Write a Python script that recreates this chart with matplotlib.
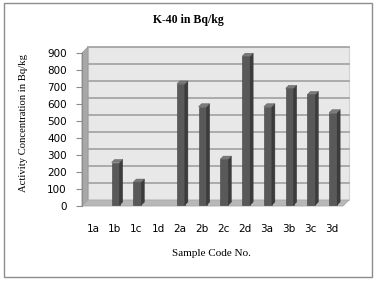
import numpy as np
import matplotlib
matplotlib.use("Agg")
import matplotlib.pyplot as plt
from matplotlib.patches import Polygon, Rectangle
from matplotlib.transforms import IdentityTransform, Affine2D

# data
samples = ['1a', '1b', '1c', '1d', '2a', '2b', '2c', '2d', '3a', '3b', '3c', '3d']
k40 = [0, 250, 135, 0, 712, 578, 270, 875, 578, 686, 650, 543]
yticks = list(range(0, 1000, 100))

W, H = 378, 283
fig = plt.figure(figsize=(W / 100, H / 100), dpi=100)
fig.patch.set_facecolor('white')

# outer frame
fig.add_artist(Rectangle((4 / W, 6 / H), 368 / W, 274 / H, transform=fig.transFigure,
                         fill=False, edgecolor='#8c8c8c', lw=1.0))

# front plane of the 3d box, in pixels
x0, x1, yb, yt = 82, 343, 206, 53
ax = fig.add_axes([x0 / W, (H - yb) / H, (x1 - x0) / W, (yb - yt) / H])
ax.set_xlim(-0.5, len(samples) - 0.5)
ax.set_ylim(0, 900)
ax.patch.set_alpha(0)

dx, dy = 6, 6  # depth offset in pixels (back = right / up)
ident = IdentityTransform()


def px(x, y):
    return ax.transData.transform((x, y))


def poly(pts, **kw):
    ax.add_patch(Polygon(pts, closed=True, transform=ident, clip_on=False, **kw))


# back wall
bl = px(-0.5, 0); tr = px(len(samples) - 0.5, 900)
poly([(bl[0] + dx, bl[1] + dy), (tr[0] + dx, bl[1] + dy),
      (tr[0] + dx, tr[1] + dy), (bl[0] + dx, tr[1] + dy)],
     facecolor='#e8e8e8', edgecolor='#d0d0d0', lw=0.8, zorder=0)
for v in yticks[1:]:
    p = px(-0.5, v)
    ax.plot([p[0] + dx, tr[0] + dx], [p[1] + dy, p[1] + dy], transform=ident,
            color='#a6a6a6', lw=1.3, clip_on=False, zorder=1)

# side wall
poly([(bl[0], bl[1]), (bl[0], tr[1]), (bl[0] + dx, tr[1] + dy), (bl[0] + dx, bl[1] + dy)],
     facecolor='#a8a8a8', edgecolor='#999999', lw=0.6, zorder=1)
# floor
br = px(len(samples) - 0.5, 0)
poly([(bl[0], bl[1]), (br[0], br[1]), (br[0] + dx, br[1] + dy), (bl[0] + dx, bl[1] + dy)],
     facecolor='#b8b8b8', edgecolor='#a8a8a8', lw=0.6, zorder=1)

# bars: front faces through ax.bar, side and top faces from the same values
bw = 0.37
bd, bdep = 1.0, 3.0
xs = np.arange(len(samples))
bars = ax.bar(xs, k40, width=bw, color='#595959', edgecolor='#404040', lw=0.4, zorder=3)
for b, v in zip(bars, k40):
    b.set_transform(ax.transData + Affine2D().translate(bd, bd))
    if v <= 0:
        b.set_visible(False)
for x, v in zip(xs, k40):
    if v <= 0:
        continue
    l = px(x - bw / 2, v); r = px(x + bw / 2, v); r0 = px(x + bw / 2, 0)
    l = l + bd; r = r + bd; r0 = r0 + bd
    poly([(r[0], r0[1]), (r[0], r[1]), (r[0] + bdep, r[1] + bdep), (r[0] + bdep, r0[1] + bdep)],
         facecolor='#3c3c3c', edgecolor='#303030', lw=0.3, zorder=4)
    poly([(l[0], l[1]), (r[0], r[1]), (r[0] + bdep, r[1] + bdep), (l[0] + bdep, l[1] + bdep)],
         facecolor='#7a7a7a', edgecolor='#555555', lw=0.3, zorder=4)

for s in ['top', 'right', 'bottom']:
    ax.spines[s].set_visible(False)
ax.spines['left'].set_color('#8c8c8c')
ax.set_yticks(yticks)
ax.set_xticks(xs)
ax.set_xticklabels(samples)
ax.tick_params(axis='y', direction='out', length=4, color='#8c8c8c', pad=7, labelsize=7.5)
ax.tick_params(axis='x', length=0, pad=13, labelsize=7.5)

fig.text(188 / W, 1 - 20 / H, 'K-40 in Bq/kg', ha='center', va='center',
         family='Liberation Serif', fontweight='bold', fontsize=8.5)
fig.text(24 / W, 1 - 123 / H, 'Activity Concentration in Bq/kg', ha='center', va='center',
         rotation=90, family='Liberation Serif', fontsize=7.7)
fig.text(211 / W, 1 - 253 / H, 'Sample Code No.', ha='center', va='center',
         family='Liberation Serif', fontsize=8)

fig.savefig('out.png', dpi=100)
